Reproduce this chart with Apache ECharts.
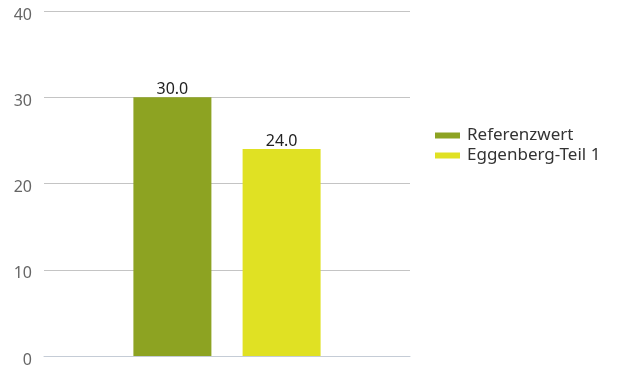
<!DOCTYPE html>
<html>
<head>
<meta charset="utf-8">
<script src="https://cdn.jsdelivr.net/npm/echarts@6/dist/echarts.min.js"></script>
<style>
  html, body { margin: 0; padding: 0; background: #fff; }
  #chart { width: 617px; height: 370px; }
</style>
</head>
<body>
<div id="chart"></div>
<script>
// Daten
var categories = [''];
var seriesNames = ['Referenzwert', 'Eggenberg-Teil 1'];
var seriesValues = [[30.0], [24.0]];
var seriesColors = ['#8da322', '#e0e123'];
var yTicks = { min: 0, max: 40, interval: 10 };

var myChart = echarts.init(document.getElementById('chart'));

var series = [];
for (var i = 0; i < seriesNames.length; i++) {
    series.push({
        name: seriesNames[i],
        type: 'bar',
        data: seriesValues[i],
        barWidth: 78,
        barGap: '40%',
        itemStyle: { color: seriesColors[i] },
        label: {
            show: true,
            position: 'top',
            distance: 0,
            color: '#222',
            fontSize: 16,
            fontFamily: 'Noto Sans',
            formatter: function (p) { return p.value.toFixed(1); }
        }
    });
}

var option = {
    animation: false,
    textStyle: { fontFamily: 'Noto Sans' },
    grid: { left: 44, right: 207, top: 11, bottom: 14 },
    legend: {
        orient: 'vertical',
        left: 430,
        top: 122,
        itemWidth: 25,
        itemHeight: 6,
        itemGap: 3,
        icon: 'rect',
        textStyle: { fontSize: 17, color: '#333', fontFamily: 'Noto Sans', padding: [0, 0, 0, 2] },
        data: seriesNames
    },
    xAxis: {
        type: 'category',
        data: categories,
        axisLine: { show: true, lineStyle: { color: '#c5ccd6', width: 1 } },
        axisTick: { show: false },
        axisLabel: { show: false }
    },
    yAxis: {
        type: 'value',
        min: yTicks.min,
        max: yTicks.max,
        interval: yTicks.interval,
        axisLine: { show: false },
        axisTick: { show: false },
        axisLabel: {
            color: '#666', fontSize: 16, margin: 12, fontFamily: 'Noto Sans',
            verticalAlign: 'top', lineHeight: 8
        },
        splitLine: { lineStyle: { color: '#c4c4c4', width: 1 } }
    },
    series: series
};

myChart.setOption(option);
</script>
</body>
</html>
